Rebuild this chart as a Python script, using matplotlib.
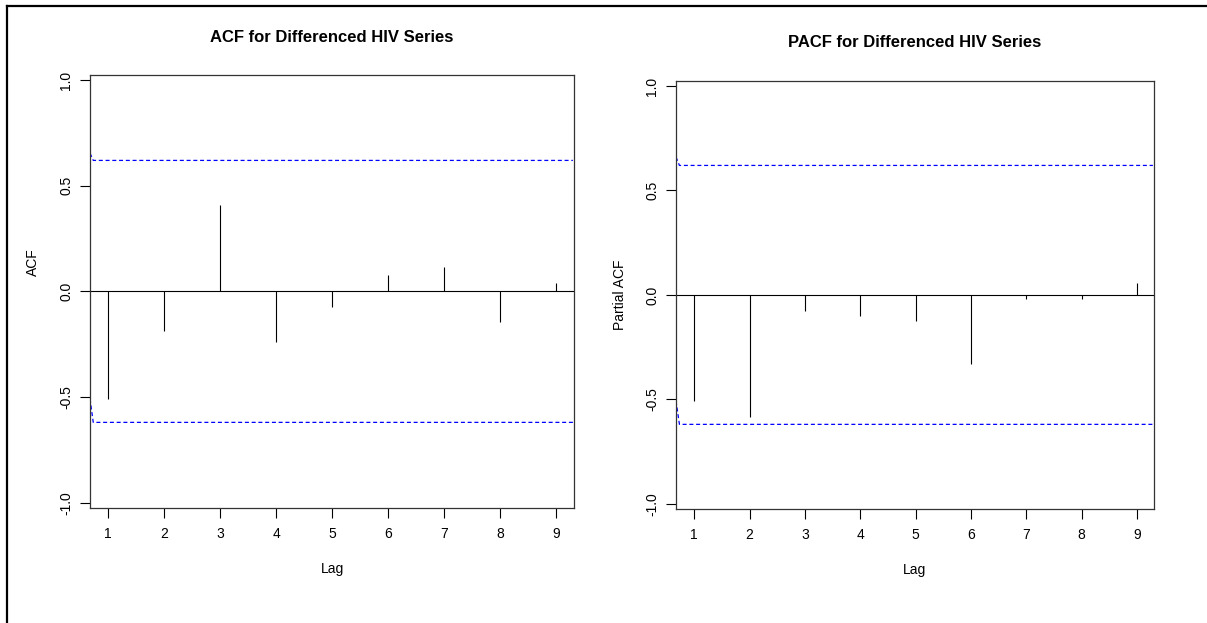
import matplotlib
matplotlib.use("Agg")
import matplotlib.pyplot as plt
from matplotlib.lines import Line2D

plt.rcParams['font.family'] = ['Liberation Sans', 'DejaVu Sans']

# Sample autocorrelations of the differenced series (n = 10)
lags = [1, 2, 3, 4, 5, 6, 7, 8, 9]
acf_values = [-0.511, -0.188, 0.410, -0.240, -0.073, 0.077, 0.114, -0.145, 0.039]
pacf_values = [-0.510, -0.585, -0.075, -0.100, -0.125, -0.330, -0.020, -0.020, 0.056]

# 95% significance limits: 1.96 / sqrt(10)
ci_limit = 0.6198
# Band curves start slightly off the limit at the left edge
acf_band_upper = [0.654, ci_limit, ci_limit]
acf_band_lower = [-0.508, -ci_limit, -ci_limit]
pacf_band_upper = [0.660, ci_limit, ci_limit]
pacf_band_lower = [-0.507, -ci_limit, -ci_limit]

y_ticks = [-1.0, -0.5, 0.0, 0.5, 1.0]
y_tick_labels = ["-1.0", "-0.5", "0.0", "0.5", "1.0"]

W, H = 1207, 623
fig = plt.figure(figsize=(W / 100, H / 100), dpi=100)


def px_axes(left, top, right, bottom):
    return fig.add_axes([left / W, 1 - bottom / H, (right - left) / W, (bottom - top) / H])


def draw_panel(ax, values, band_up, band_lo, title, ylabel, xlim, title_y, xlabel_y,
               ylabel_x, ylabel_y):
    ax.set_xlim(*xlim)
    ax.set_ylim(-1.025, 1.024)
    band_x = [xlim[0], 0.731, xlim[1] - 0.02]
    ax.plot(band_x, band_up, color='#0000ff', lw=0.9, dashes=(3.2, 2.2))
    ax.plot(band_x, band_lo, color='#0000ff', lw=0.9, dashes=(3.2, 2.2))
    ax.axhline(0, color='black', lw=0.8)
    ax.vlines(lags, 0, values, color='black', lw=0.8)

    ax.set_xticks(lags)
    ax.set_xticklabels([str(v) for v in lags])
    ax.set_yticks(y_ticks)
    ax.set_yticklabels(y_tick_labels, rotation=90, va='center')
    ax.tick_params(axis='both', direction='out', length=7, width=0.8,
                   labelsize=10, colors='black')
    ax.tick_params(axis='x', pad=7)
    ax.tick_params(axis='y', pad=5)
    for sp in ax.spines.values():
        sp.set_color('#333333')
        sp.set_linewidth(0.9)

    ax.text(0.5, title_y, title, transform=ax.transAxes, ha='center', va='center',
            fontsize=12, fontweight='bold')
    ax.set_xlabel('Lag', fontsize=10, va='center')
    ax.xaxis.set_label_coords(0.5, xlabel_y)
    ax.set_ylabel(ylabel, fontsize=10, va='center', ha='center')
    ax.yaxis.set_label_coords(ylabel_x, ylabel_y)


ax1 = px_axes(90, 75, 574, 508)
draw_panel(ax1, acf_values, acf_band_upper, acf_band_lower,
           'ACF for Differenced HIV Series', 'ACF', (0.673, 9.316),
           (508 - 37) / 433, (508 - 569) / 433, (33 - 90) / 484, (508 - 262) / 433)

ax2 = px_axes(676, 81, 1154, 509)
draw_panel(ax2, pacf_values, pacf_band_upper, pacf_band_lower,
           'PACF for Differenced HIV Series', 'Partial ACF', (0.669, 9.31),
           (509 - 42.5) / 428, (509 - 570) / 428, (620 - 676) / 478, 0.5)

# Outer frame along the top and left edges
fig.add_artist(Line2D([7 / W, 1.0], [1 - 5.7 / H, 1 - 5.7 / H], color='black', lw=1.6,
                      transform=fig.transFigure))
fig.add_artist(Line2D([7 / W, 7 / W], [0.0, 1 - 5.7 / H], color='black', lw=1.6,
                      transform=fig.transFigure))

fig.savefig('out.png', dpi=100)
